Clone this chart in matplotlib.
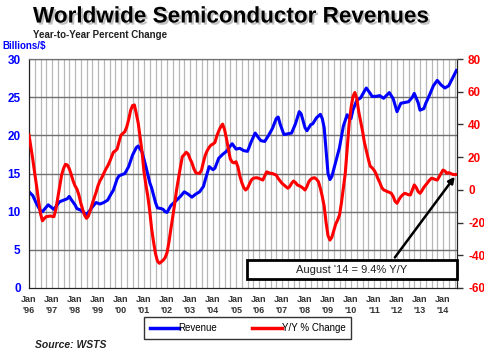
import matplotlib.pyplot as plt
import matplotlib.patheffects as pe
from matplotlib.patches import Rectangle

plt.rcParams['font.family'] = ['Liberation Sans', 'DejaVu Sans']

# Revenue (billions $), month index counted from Jan 1996
rev_month = [0, 2, 4, 6, 7, 9, 10, 12, 13, 15, 16, 18, 20, 21, 22, 24, 25, 27, 30, 31,
             33, 35, 37, 39, 41, 43, 44, 46, 47, 48, 50, 52, 54, 56, 57, 59, 61, 63, 64, 66,
             67, 69, 70, 71, 72, 74, 77, 79, 81, 83, 85, 87, 89, 91, 92, 94, 96, 97, 99, 101,
             103, 105, 106, 108, 110, 112, 114, 116, 118, 120, 121, 123, 125, 127, 129, 130, 131, 133, 135, 137,
             139, 141, 142, 144, 145, 147, 148, 150, 152, 153, 154, 155, 156, 157, 158, 160, 162, 164, 166, 167,
             168, 169, 171, 173, 175, 176, 178, 179, 181, 183, 185, 188, 190, 192, 194, 196, 198, 200, 201, 203,
             204, 206, 207, 209, 211, 213, 215, 217, 219, 221, 223]
rev_value = [12.6, 12.1, 11.0, 10.1, 10.0, 10.6, 10.9, 10.5, 10.3, 11.0, 11.3, 11.5, 11.7, 12.0, 11.6, 10.9, 10.4, 10.2, 9.6, 9.9,
             10.6, 11.2, 11.0, 11.2, 11.5, 12.4, 12.8, 14.3, 14.7, 14.8, 15.0, 15.9, 17.4, 18.4, 18.6, 17.8, 15.9, 13.8, 13.1, 11.2,
             10.5, 10.4, 10.3, 10.0, 9.9, 10.8, 11.5, 12.0, 12.6, 12.3, 11.9, 12.3, 12.6, 13.3, 14.2, 15.9, 15.5, 15.7, 17.0, 17.5,
             17.9, 18.6, 18.9, 18.2, 18.3, 18.0, 17.9, 19.2, 20.3, 19.6, 19.3, 19.2, 20.0, 20.9, 22.2, 22.4, 21.5, 20.1, 20.2, 20.3,
             21.5, 23.1, 22.8, 21.0, 20.6, 21.4, 21.5, 22.3, 22.75, 22.2, 21.0, 18.0, 15.0, 14.2, 14.6, 16.5, 18.4, 21.2, 22.7, 22.3,
             22.2, 23.3, 24.6, 24.9, 25.8, 26.2, 25.5, 25.1, 25.1, 25.2, 24.85, 25.6, 24.8, 23.1, 24.2, 24.3, 24.4, 25.0, 25.5, 24.3,
             23.3, 23.5, 24.2, 25.3, 26.5, 27.2, 26.6, 26.2, 26.5, 27.5, 28.5]

# Year-to-year percent change, monthly Jan 1996 .. Aug 2014
yoy_value = [33.5, 26, 18.5, 10, 2, -7, -14.5, -18.9, -17.5, -16.4, -16.2, -16.0,
             -16.2, -16.4, -12, -5, 2, 9, 13, 15.6, 15.2, 13, 9.5, 5.5,
             2.5, 0.5, -3, -8, -12, -15.5, -17.4, -16, -12.5, -8.5, -5, -1.5,
             2.5, 5.5, 7.5, 10, 12.5, 14.5, 17, 20, 23, 23.8, 25, 29.5,
             33.5, 34.5, 35.6, 38.5, 43, 48.5, 51.5, 51.9, 46.5, 40.7, 32, 23,
             11, 3, -4, -13, -24, -32, -39, -43.5, -44.9, -44, -43, -41.5,
             -38.5, -32, -24, -16.5, -8.5, 0, 7, 14, 20.3, 21.5, 23, 22,
             19, 16.5, 13, 10.5, 10.1, 10.1, 12, 17, 21.3, 24, 26, 27.4,
             28, 29, 33, 36, 38.5, 40.2, 37, 31.5, 25, 19, 17, 16.5,
             17.2, 14, 8.5, 4.5, 1.5, -0.1, 1, 3.5, 6, 7.1, 7.3, 7.4,
             7, 6.5, 6, 8.5, 11, 10.5, 10.1, 10, 9.5, 9, 7, 5.5,
             4, 3, 2, 1, 2, 4, 5.4, 4.5, 3, 2.5, 1.9, 1,
             -0.1, 2, 5, 6.5, 7.2, 7.4, 6.5, 5, 1, -4, -10, -20,
             -28, -30.7, -29, -25, -21, -18.5, -15.4, -8, 1, 10, 25, 40,
             50, 57, 59.5, 56, 48, 42, 36, 29, 24, 19, 14.5, 13.5,
             12.1, 10, 7, 4.5, 1.5, 0, -0.5, -1.1, -1.5, -2.1, -4, -7,
             -8.2, -6, -4.2, -3, -2.1, -2.5, -3, -3.1, 0, 3, 1.5, -1,
             -2.1, -0.5, 1.5, 3, 4.5, 6, 7.1, 6.8, 6.3, 6, 8, 10,
             12.1, 11.5, 10.1, 10.5, 10, 9.5, 9.3, 9.4]
yoy_month = list(range(len(yoy_value)))

year_labels = ["Jan\n'%02d" % (y % 100) for y in range(1996, 2015)]
left_ticks = [0, 5, 10, 15, 20, 25, 30]
right_ticks = [-60, -40, -20, 0, 20, 40, 60, 80]

fig = plt.figure(figsize=(4.85, 3.55), dpi=100)
ax = fig.add_axes([29/485, 67/355, 428/485, 229/355])
ax2 = ax.twinx()

# background grid
for m in range(0, 224, 3):
    ax.axvline(m, color='#b8b8b8', lw=0.9, zorder=0)
for v in left_ticks[1:]:
    ax.axhline(v, color='#707070', lw=1.0, zorder=1)

ax.plot(rev_month, rev_value, color='#0000ff', lw=2.2, zorder=3)
ax2.plot(yoy_month, yoy_value, color='#ff0000', lw=2.2, zorder=3)

ax.set_xlim(0, 223.3)
ax.set_ylim(0, 30)
ax2.set_ylim(-60, 80)

ax.set_xticks(range(0, 217, 12))
ax.set_xticklabels(year_labels, fontsize=6.5, fontweight='bold', color='#333333', linespacing=1.3)
ax.tick_params(axis='x', length=0, pad=5)
ax.set_yticks(left_ticks)
ax.set_yticklabels(left_ticks, fontsize=8.5, fontweight='bold', color='#0000ff')
ax.tick_params(axis='y', length=0, pad=6)
ax2.set_yticks(right_ticks)
ax2.set_yticklabels(right_ticks, fontsize=8.5, fontweight='bold', color='#ff0000')
ax2.tick_params(axis='y', length=4, width=1, color='#333333', pad=4)

for a in (ax, ax2):
    a.spines['top'].set_color('#707070')
    a.spines['left'].set_color('#222222')
    a.spines['right'].set_color('#222222')
    a.spines['bottom'].set_color('#222222')

# annotation box and arrow
ax2.add_patch(Rectangle((113.7, -54.5), 223.3 - 113.7, 11.6, facecolor='white',
                        edgecolor='black', lw=2, clip_on=False, zorder=5))
ax2.text((113.7 + 223.3) / 2, -48.7, "August '14 = 9.4% Y/Y", ha='center', va='center',
         fontsize=8, color='#222222', zorder=6)
ax2.annotate('', xy=(yoy_month[-1], yoy_value[-1]), xytext=(190, -42.7),
             arrowprops=dict(arrowstyle='-|>', color='black', lw=1.8, mutation_scale=9),
             zorder=6, annotation_clip=False)

# legend
h1, = ax.plot([], [], color='#0000ff', lw=2.5, label='Revenue')
h2, = ax.plot([], [], color='#ff0000', lw=2.5, label='Y/Y % Change')
leg = fig.legend(handles=[h1, h2], loc='center', bbox_to_anchor=(247.5/485, 27/355),
                 ncol=2, fontsize=7, frameon=True, fancybox=False, handlelength=3,
                 handletextpad=0.0, columnspacing=3.6, borderpad=0.6, borderaxespad=0)
leg.get_frame().set_edgecolor('black')
leg.get_frame().set_linewidth(1)

fig.text(33/485, 1 - 17/355, 'Worldwide Semiconductor Revenues', fontsize=16.2, fontweight='bold',
         va='center', ha='left',
         path_effects=[pe.withSimplePatchShadow(offset=(1.5, -1.5), shadow_rgbFace='#999999', alpha=0.6)])
fig.text(33/485, 1 - 35/355, 'Year-to-Year Percent Change', fontsize=7, fontweight='bold',
         va='center', ha='left', color='#222222')
fig.text(2/485, 1 - 46/355, 'Billions/$', fontsize=7, fontweight='bold', va='center',
         ha='left', color='#0000ff')
fig.text(35/485, 1 - 345/355, 'Source: WSTS', fontsize=7.5, fontweight='bold',
         fontstyle='italic', va='center', ha='left', color='#222222')

fig.savefig('out.png', dpi=100)
